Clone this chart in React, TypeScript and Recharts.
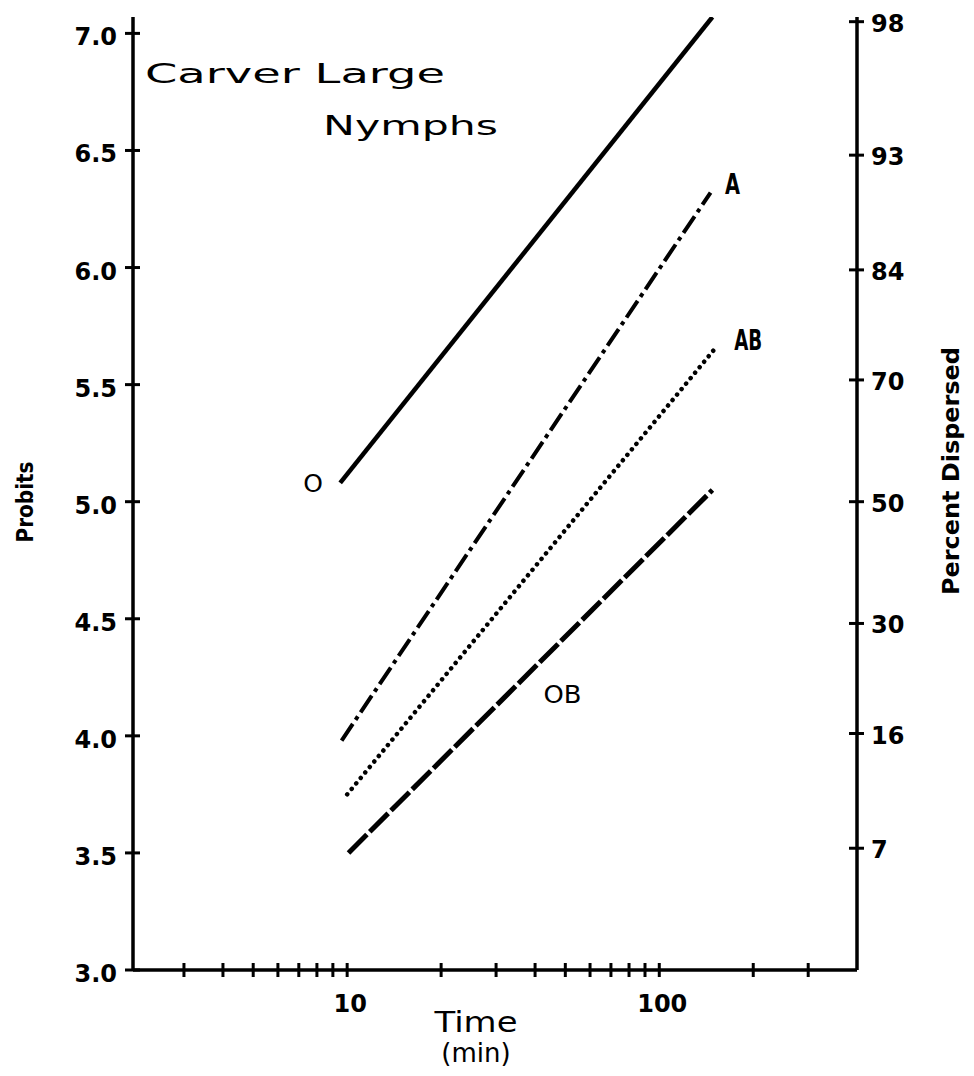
import { Customized, Line, LineChart, ReferenceDot, XAxis, YAxis } from "recharts";

// time axis (log), only 10 and 100 carry a label
const timeTicks = [3, 4, 5, 6, 7, 8, 9, 10, 20, 30, 40, 50, 60, 70, 80, 90, 100, 200, 300];
const timeLabels = [10, 100];

// left axis: probits
const probitTicks = [3, 3.5, 4, 4.5, 5, 5.5, 6, 6.5, 7];

// right axis: percent dispersed, placed at their probit values
const percentLabels = [7, 16, 30, 50, 70, 84, 93, 98];
const percentProbits = [3.52, 4.01, 4.48, 5.0, 5.52, 5.99, 6.48, 7.05];

// fitted lines, start and end of each (time in min, probit)
const oTime = [9.5, 148];
const oProbit = [5.08, 7.07];
const aTime = [9.6, 146];
const aProbit = [3.98, 6.32];
const abTime = [10, 150];
const abProbit = [3.75, 5.65];
const obTime = [10.1, 148];
const obProbit = [3.5, 5.05];

// where the "OB" tag sits, in data units
const obTagTime = 49;
const obTagProbit = 4.18;

const toRows = (t: number[], p: number[]) => t.map((v, i) => ({ t: v, p: p[i] }));

const GEO = "'DejaVu Sans', Verdana, sans-serif";
const NARROW = "'Liberation Sans Narrow', 'DejaVu Sans Condensed', 'DejaVu Sans', sans-serif";
const INK = "#000";

const XTick = (props: any) => {
  const { x, y, payload } = props;
  const v = payload.value;
  return (
    <g>
      <line x1={x} x2={x} y1={y - 7} y2={y + 7} stroke={INK} strokeWidth={3} />
      {timeLabels.includes(v) && (
        <text x={x + 3} y={y + 42} textAnchor="middle" fontFamily={GEO} fontSize={24} fontWeight="bold" fill={INK}>
          {v}
        </text>
      )}
    </g>
  );
};

const LeftTick = (props: any) => {
  const { x, y, payload } = props;
  return (
    <g>
      <line x1={x - 8} x2={x + 7} y1={y} y2={y} stroke={INK} strokeWidth={3} />
      <text x={x - 16} y={y + 12} textAnchor="end" fontFamily={GEO} fontSize={24} fontWeight="bold" fill={INK}>
        {payload.value.toFixed(1)}
      </text>
    </g>
  );
};

const RightTick = (props: any) => {
  const { x, y, payload } = props;
  const i = percentProbits.indexOf(payload.value);
  return (
    <g>
      <line x1={x - 8} x2={x + 7} y1={y} y2={y} stroke={INK} strokeWidth={3} />
      <text x={x + 14} y={y + 10} textAnchor="start" fontFamily={GEO} fontSize={24} fontWeight="bold" fill={INK}>
        {percentLabels[i]}
      </text>
    </g>
  );
};

const tag =
  (text: string, dx: number, dy: number, font: string, size: number, bold = false, len?: number) =>
  (props: any) => (
    <text
      x={props.cx + dx}
      y={props.cy + dy}
      textAnchor="middle"
      fontFamily={font}
      fontSize={size}
      fontWeight={bold ? "bold" : "normal"}
      fill={INK}
      textLength={len}
      lengthAdjust={len ? "spacingAndGlyphs" : undefined}
    >
      {text}
    </text>
  );

const Texts = () => (
  <g fill={INK}>
    <text x={137} y={75} fontFamily={GEO} fontSize={27} textLength={300} lengthAdjust="spacingAndGlyphs">
      Carver Large
    </text>
    <text x={315} y={127} fontFamily={GEO} fontSize={27} textLength={175} lengthAdjust="spacingAndGlyphs">
      Nymphs
    </text>
    <text x={468} y={1024} textAnchor="middle" fontFamily={GEO} fontSize={28} textLength={83} lengthAdjust="spacingAndGlyphs">
      Time
    </text>
    <text x={468} y={1054} textAnchor="middle" fontFamily={GEO} fontSize={26}>
      (min)
    </text>
    <text
      transform="translate(25 494) rotate(-90)"
      textAnchor="middle"
      fontFamily={NARROW}
      fontWeight="bold"
      fontSize={23}
      textLength={81}
      lengthAdjust="spacingAndGlyphs"
    >
      Probits
    </text>
    <text
      transform="translate(951 463) rotate(-90)"
      textAnchor="middle"
      fontFamily={NARROW}
      fontWeight="bold"
      fontSize={23}
      textLength={248}
      lengthAdjust="spacingAndGlyphs"
    >
      Percent Dispersed
    </text>
  </g>
);

export default function App() {
  return (
    <LineChart width={958} height={1060} margin={{ top: 9, right: 0, bottom: 0, left: 0 }}>
      <XAxis
        dataKey="t"
        type="number"
        scale="log"
        domain={[2.06, 430]}
        allowDataOverflow
        ticks={timeTicks}
        interval={0}
        tick={XTick}
        tickLine={false}
        tickSize={0}
        tickMargin={0}
        height={98}
        axisLine={{ stroke: INK, strokeWidth: 3.5 }}
      />
      <YAxis
        yAxisId="left"
        type="number"
        domain={[3, 7.07]}
        allowDataOverflow
        ticks={probitTicks}
        interval={0}
        tick={LeftTick}
        tickLine={false}
        tickSize={0}
        tickMargin={0}
        width={125}
        axisLine={{ stroke: INK, strokeWidth: 3.5 }}
      />
      <YAxis
        yAxisId="right"
        orientation="right"
        type="number"
        domain={[3, 7.07]}
        allowDataOverflow
        ticks={percentProbits}
        interval={0}
        tick={RightTick}
        tickLine={false}
        tickSize={0}
        tickMargin={0}
        width={109}
        axisLine={{ stroke: INK, strokeWidth: 3.5 }}
      />

      <Line
        yAxisId="left"
        data={toRows(oTime, oProbit)}
        dataKey="p"
        stroke={INK}
        strokeWidth={4.5}
        dot={false}
        activeDot={false}
        isAnimationActive={false}
      />
      <Line
        yAxisId="left"
        data={toRows(aTime, aProbit)}
        dataKey="p"
        stroke={INK}
        strokeWidth={4}
        strokeDasharray="20 5 4 5"
        dot={false}
        activeDot={false}
        isAnimationActive={false}
      />
      <Line
        yAxisId="left"
        data={toRows(abTime, abProbit)}
        dataKey="p"
        stroke={INK}
        strokeWidth={4.5}
        strokeLinecap="round"
        strokeDasharray="0.1 7"
        dot={false}
        activeDot={false}
        isAnimationActive={false}
      />
      <Line
        yAxisId="left"
        data={toRows(obTime, obProbit)}
        dataKey="p"
        stroke={INK}
        strokeWidth={5}
        strokeDasharray="26 4"
        dot={false}
        activeDot={false}
        isAnimationActive={false}
      />

      <ReferenceDot yAxisId="left" x={oTime[0]} y={oProbit[0]} ifOverflow="visible" shape={tag("O", -27, 9, GEO, 25)} />
      <ReferenceDot yAxisId="left" x={aTime[1]} y={aProbit[1]} ifOverflow="visible" shape={tag("A", 22, 1, NARROW, 29, true, 15)} />
      <ReferenceDot yAxisId="left" x={abTime[1]} y={abProbit[1]} ifOverflow="visible" shape={tag("AB", 34, 1, NARROW, 29, true, 28)} />
      <ReferenceDot yAxisId="left" x={obTagTime} y={obTagProbit} ifOverflow="visible" shape={tag("OB", 0, 9, GEO, 25, false, 38)} />

      <Customized component={Texts} />
    </LineChart>
  );
}
